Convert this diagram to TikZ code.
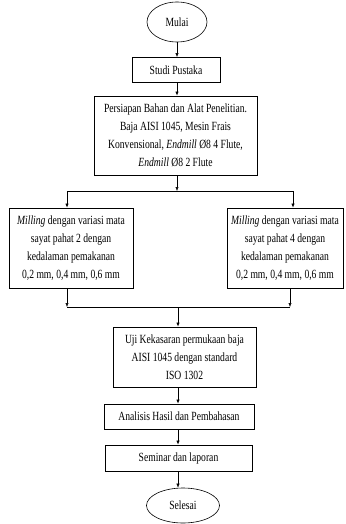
\documentclass[tikz,border=0pt]{standalone}
\usepackage{fontspec}
\setmainfont[FakeStretch=0.77]{Liberation Serif}
\usepackage{tikz}
\usetikzlibrary{positioning,shapes.geometric,arrows.meta}

\begin{document}
\begin{tikzpicture}[x=1pt, y=-1pt,
        box/.style={draw, line width=0.7pt, align=center, inner sep=2pt,
            font=\fontsize{12.5}{17.8}\selectfont},
        terminal/.style={draw, ellipse, line width=0.6pt, inner sep=0pt,
            font=\fontsize{12.5}{14}\selectfont},
        arr/.style={-{Latex[length=4pt,width=3.2pt]}, line width=0.5pt},
        link/.style={line width=0.7pt}]
        % Fix the page to the size of the reference
        \useasboundingbox (0,0) rectangle (345,524);

        % --- Start and literature ---
        \node[terminal, minimum width=60, minimum height=40] (mulai) at (177,22) {Mulai};
        \node[box, minimum width=88, minimum height=25] (studi) at (176,70) {Studi Pustaka};

        % Preparation of material and tools
        \node[box, minimum width=163, minimum height=79] (persiapan) at (175.5,135.5)
            {Persiapan Bahan dan Alat Penelitian.\\
             Baja AISI 1045, Mesin Frais\\
             Konvensional, \textit{Endmill} Ø8 4 Flute,\\
             \textit{Endmill} Ø8 2 Flute};

        % --- Split into the two milling variations ---
        \coordinate (split) at (177,191);
        \coordinate (splitL) at (67,191);
        \coordinate (splitR) at (293,191);

        \node[box, minimum width=124, minimum height=80] (millA) at (71,248)
            {\textit{Milling} dengan variasi mata\\
             sayat pahat 2 dengan\\
             kedalaman pemakanan\\
             0,2 mm, 0,4 mm, 0,6 mm};
        \node[box, minimum width=116, minimum height=80] (millB) at (285,248)
            {\textit{Milling} dengan variasi mata\\
             sayat pahat 4 dengan\\
             kedalaman pemakanan\\
             0,2 mm, 0,4 mm, 0,6 mm};

        % --- Join again ---
        \coordinate (joinL) at (67,307);
        \coordinate (joinR) at (290,307);
        \coordinate (join) at (178,307);

        \node[box, minimum width=143, minimum height=60] (uji) at (184.5,357)
            {Uji Kekasaran permukaan baja\\
             AISI 1045 dengan standard\\
             ISO 1302};

        % --- Analysis, report and end ---
        \node[box, minimum width=150, minimum height=25] (analisis) at (179,416.5)
            {Analisis Hasil dan Pembahasan};
        \node[box, minimum width=147, minimum height=26] (seminar) at (178.5,458)
            {Seminar dan laporan};
        \node[terminal, minimum width=73, minimum height=35] (selesai) at (183,505.5) {Selesai};

        % Connectors
        \draw[arr] (mulai.south) -- (mulai.south |- studi.north);
        \draw[arr] (mulai.south |- studi.south) -- (mulai.south |- persiapan.north);
        \draw[arr] (split |- persiapan.south) -- (split);
        \draw[link] (splitL) -- (splitR);
        \draw[arr] (splitL) -- (splitL |- millA.north);
        \draw[arr] (splitR) -- (splitR |- millB.north);

        \draw[arr] (joinL |- millA.south) -- (joinL);
        \draw[arr] (joinR |- millB.south) -- (joinR);
        \draw[link] (joinL) -- (joinR);
        \draw[arr] (join) -- (join |- uji.north);

        \draw[arr] (join |- uji.south) -- (join |- analisis.north);
        \draw[arr] (join |- analisis.south) -- (join |- seminar.north);
        \draw[arr] (join |- seminar.south) -- (join |- selesai.north);

    \end{tikzpicture}
\end{document}
